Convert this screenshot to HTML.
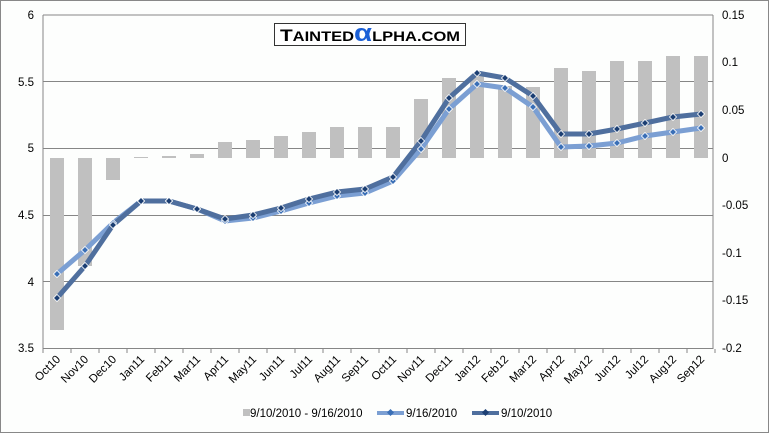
<!DOCTYPE html>
<html><head><meta charset="utf-8"><style>body{margin:0;background:#fff}svg{display:block}text{font-family:"Liberation Sans",sans-serif;font-size:11.5px;fill:#000}</style></head><body>
<svg width="769" height="433" viewBox="0 0 769 433" xmlns="http://www.w3.org/2000/svg">
<rect x="0.5" y="0.5" width="768" height="432" fill="#fdfefd" stroke="#888"/>
<g stroke="#868686" stroke-width="1">
<line x1="43" y1="15" x2="713" y2="15"/><line x1="43" y1="81.5" x2="713" y2="81.5"/><line x1="43" y1="148.5" x2="713" y2="148.5"/><line x1="43" y1="215.5" x2="713" y2="215.5"/><line x1="43" y1="281.5" x2="713" y2="281.5"/>
<line x1="43" y1="348.5" x2="713" y2="348.5"/>
<line x1="43" y1="15" x2="43" y2="349"/><line x1="713" y1="15" x2="713" y2="349"/>
</g>
<g id="bars" fill="#c0c0c0"></g>
<g id="ticks" stroke="#868686"></g>
<g font-size="11.5">
<text x="34" y="19" text-anchor="end">6</text><text x="34" y="86" text-anchor="end">5.5</text><text x="34" y="152" text-anchor="end">5</text><text x="34" y="219" text-anchor="end">4.5</text><text x="34" y="286" text-anchor="end">4</text><text x="34" y="352" text-anchor="end">3.5</text>
<text x="722" y="19">0.15</text><text x="722" y="66">0.1</text><text x="722" y="114">0.05</text><text x="722" y="162">0</text><text x="722" y="209">-0.05</text><text x="722" y="257">-0.1</text><text x="722" y="304">-0.15</text><text x="722" y="352">-0.2</text>
</g>
<g id="labels"></g>
<polyline id="l1" fill="none" stroke="#7b9fd3" stroke-width="5" stroke-linejoin="round"/>
<polyline id="l2" fill="none" stroke="#4f6f9e" stroke-width="5" stroke-linejoin="round"/>
<g id="m"></g>
<rect x="274.5" y="23.5" width="191" height="22" fill="#fff" stroke="#333"/>
<text x="370" y="41" text-anchor="middle" textLength="180" lengthAdjust="spacingAndGlyphs" style="font-size:17px;font-weight:bold" fill="#111">T<tspan style="font-size:13.5px">AINTED</tspan><tspan fill="#1a5fd6" style="font-size:24px">α</tspan><tspan style="font-size:13.5px">LPHA.COM</tspan></text>
<rect x="243" y="409" width="7" height="7" fill="#c0c0c0"/>
<text x="250" y="417">9/10/2010 - 9/16/2010</text>
<line x1="377" y1="413" x2="404" y2="413" stroke="#7b9fd3" stroke-width="4"/><rect x="388" y="410" width="5" height="5" fill="#3a6fb6" transform="rotate(45 390.5 412.5)"/>
<text x="406" y="417">9/16/2010</text>
<line x1="472" y1="413" x2="499" y2="413" stroke="#4f6f9e" stroke-width="4"/><rect x="483" y="410" width="5" height="5" fill="#1c3f73" transform="rotate(45 485.5 412.5)"/>
<text x="501" y="417">9/10/2010</text>
</svg>
<script>
var ns="http://www.w3.org/2000/svg";
var names=["Oct10","Nov10","Dec10","Jan11","Feb11","Mar11","Apr11","May11","Jun11","Jul11","Aug11","Sep11","Oct11","Nov11","Dec11","Jan12","Feb12","Mar12","Apr12","May12","Jun12","Jul12","Aug12","Sep12"];
var dark=[298,266,225,201,201,209,219,215,208,199,192,189,177,141,98,73,78,96,134,134,129,123,117,114];
var light=[274,250,223,201,201,209,221,218,211,203,196,193,181,149,109,84,88,107,147,146,143,136,132,128];
var bar=[330,266,180,157,156,154,142,140,136,132,127,127,127,99,78,76,86,87,68,71,61,61,56,56];
function el(t,a,p){var e=document.createElementNS(ns,t);for(var k in a)e.setAttribute(k,a[k]);document.getElementById(p).appendChild(e);return e;}
var z=158,p1=[],p2=[];
for(var i=0;i<24;i++){var x=57+28*i;
var t=Math.min(bar[i],z),b=Math.max(bar[i],z);el("rect",{x:x-7,y:t,width:14,height:Math.max(b-t,1)},"bars");
el("line",{x1:43+28*i,y1:349,x2:43+28*i,y2:353},"ticks");
var tx=el("text",{x:x+4,y:360,"text-anchor":"end",transform:"rotate(-45 "+(x+4)+" 360)"},"labels");tx.textContent=names[i];
p1.push(x+","+light[i]);p2.push(x+","+dark[i]);}
el("line",{x1:715,y1:349,x2:715,y2:353},"ticks");
document.getElementById("l1").setAttribute("points",p1.join(" "));
document.getElementById("l2").setAttribute("points",p2.join(" "));
for(var i=0;i<24;i++){var x=57+28*i;
el("rect",{x:x-2.5,y:light[i]-2.5,width:5,height:5,fill:"#3a6fb6",stroke:"#fff","stroke-width":0.8,transform:"rotate(45 "+x+" "+light[i]+")"},"m");
el("rect",{x:x-2.5,y:dark[i]-2.5,width:5,height:5,fill:"#1c3f73",stroke:"#fff","stroke-width":0.8,transform:"rotate(45 "+x+" "+dark[i]+")"},"m");}
</script>
</body></html>
